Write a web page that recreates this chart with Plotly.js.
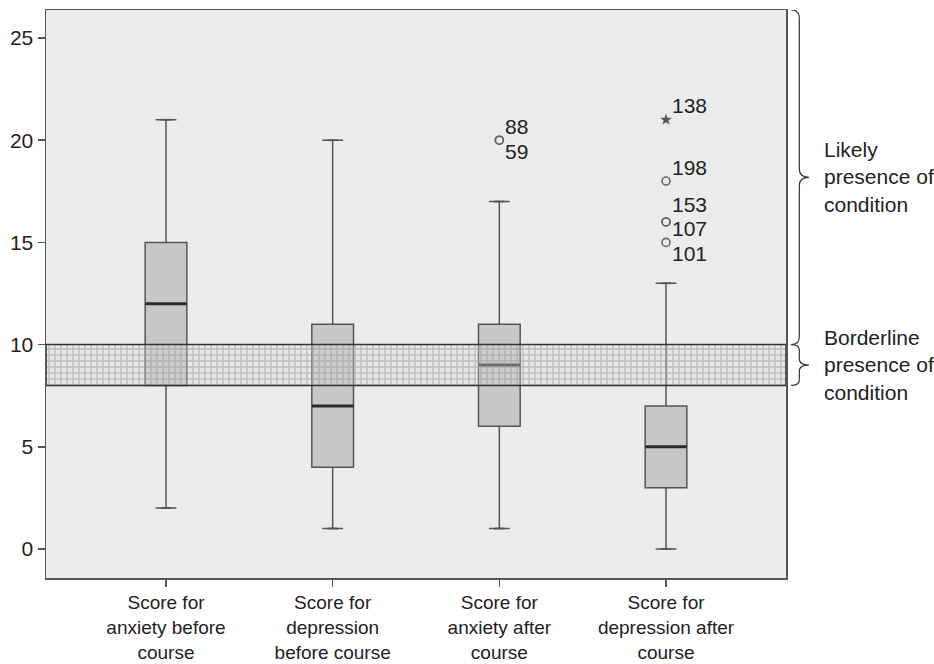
<!DOCTYPE html>
<html>
<head>
<meta charset="utf-8">
<script src="https://cdn.plot.ly/plotly-3.0.1.min.js"></script>
<style>html,body{margin:0;padding:0;background:#fff}#chart{width:934px;height:664px}</style>
</head>
<body>
<div id="chart"></div>
<script>
// ---- data ----
const categories = ['anxBefore', 'depBefore', 'anxAfter', 'depAfter'];
const tickLabels = ['Score for<br>anxiety before<br>course', 'Score for<br>depression<br>before course', 'Score for<br>anxiety after<br>course', 'Score for<br>depression after<br>course'];
const lowerWhisker = [2, 1, 1, 0];
const q1 = [8, 4, 6, 3];
const median = [12, 7, 9, 5];
const q3 = [15, 11, 11, 7];
const upperWhisker = [21, 20, 17, 13];

const outlierCat = ['anxAfter', 'anxAfter', 'depAfter', 'depAfter', 'depAfter', 'depAfter'];
const outlierVal = [20, 20, 18, 16, 16, 15];
const outlierCase = ['88', '59', '198', '153', '107', '101'];

const extremeCat = ['depAfter'];
const extremeVal = [21];
const extremeCase = ['138'];

const borderlineBand = [8, 10];
const yRange = [-1.42, 26.37];
const yTicks = [0, 5, 10, 15, 20, 25];

// label placement (style only)
const outlierLabelPos = ['above', 'below', 'above', 'high', 'low', 'below'];
const extremeLabelPos = ['above'];

const FONT = 'Liberation Sans, Arial, sans-serif';
const LINE = '#555';

const traces = [];

traces.push({
  type: 'box',
  x: categories,
  q1: q1, median: median, q3: q3,
  lowerfence: lowerWhisker, upperfence: upperWhisker,
  boxpoints: false,
  width: 0.25,
  fillcolor: '#c8c8c8',
  line: {color: LINE, width: 1.5},
  hoverinfo: 'skip',
  showlegend: false
});

// thick median lines
traces.push({
  type: 'scatter', mode: 'markers',
  x: categories, y: median,
  marker: {symbol: 'line-ew', size: 29.5, color: '#2a2a2a', line: {color: '#2a2a2a', width: 3}},
  hoverinfo: 'skip', showlegend: false
});

// whisker caps
traces.push({
  type: 'scatter', mode: 'markers',
  x: categories.concat(categories), y: lowerWhisker.concat(upperWhisker),
  marker: {symbol: 'line-ew', size: 7.5, color: LINE, line: {color: LINE, width: 1.8}},
  hoverinfo: 'skip', showlegend: false
});

// outliers
traces.push({
  type: 'scatter', mode: 'markers',
  x: outlierCat, y: outlierVal,
  marker: {symbol: 'circle-open', size: 8, color: '#666', line: {color: '#666', width: 1.6}},
  hoverinfo: 'skip', showlegend: false
});
traces.push({
  type: 'scatter', mode: 'markers',
  x: extremeCat, y: extremeVal,
  marker: {symbol: 'star', size: 9, color: '#555', line: {width: 0}},
  hoverinfo: 'skip', showlegend: false
});

// borderline band (overlay axis so it spans the full width)
traces.push({
  type: 'bar',
  xaxis: 'x2', yaxis: 'y',
  x: [0.5], width: [1],
  base: [borderlineBand[0]], y: [borderlineBand[1] - borderlineBand[0]],
  marker: {
    color: 'rgba(215,215,215,0.35)',
    pattern: {shape: '+', bgcolor: 'rgba(220,220,220,0.35)', fgcolor: 'rgba(140,140,140,0.45)', size: 6, solidity: 0.4},
    line: {color: '#333', width: 1.5}
  },
  hoverinfo: 'skip', showlegend: false
});

const shiftFor = {above: 14, below: -11, high: 17, low: -7};
const annotations = [];
function addLabels(cats, vals, labels, pos) {
  for (let i = 0; i < cats.length; i++) {
    annotations.push({
      x: cats[i], y: vals[i], xref: 'x', yref: 'y',
      text: labels[i], showarrow: false,
      xanchor: 'left', yanchor: 'middle',
      xshift: 4, yshift: shiftFor[pos[i]],
      font: {family: FONT, size: 21, color: '#222'}
    });
  }
}
addLabels(outlierCat, outlierVal, outlierCase, outlierLabelPos);
addLabels(extremeCat, extremeVal, extremeCase, extremeLabelPos);

// braces
function bracePath(yTop, yBot, r) {
  const x0 = 1.007, xs = 1.018, xt = 1.031;
  const ym = (yTop + yBot) / 2;
  return `M${x0},${yTop} Q${xs},${yTop} ${xs},${yTop - r} L${xs},${ym + r} Q${xs},${ym} ${xt},${ym} ` +
         `Q${xs},${ym} ${xs},${ym - r} L${xs},${yBot + r} Q${xs},${yBot} ${x0},${yBot}`;
}
const shapes = [
  {type: 'path', xref: 'paper', yref: 'y', path: bracePath(yRange[1], borderlineBand[1], 0.4), line: {color: '#333', width: 1.2}},
  {type: 'path', xref: 'paper', yref: 'y', path: bracePath(borderlineBand[1], borderlineBand[0], 0.28), line: {color: '#333', width: 1.2}}
];

annotations.push({
  xref: 'paper', yref: 'y', x: 1.048, y: (yRange[1] + borderlineBand[1]) / 2,
  text: 'Likely<br>presence of<br>condition', showarrow: false,
  xanchor: 'left', yanchor: 'middle', align: 'left',
  font: {family: FONT, size: 21, color: '#222'}
});
annotations.push({
  xref: 'paper', yref: 'y', x: 1.048, y: (borderlineBand[0] + borderlineBand[1]) / 2,
  text: 'Borderline<br>presence of<br>condition', showarrow: false,
  xanchor: 'left', yanchor: 'middle', align: 'left',
  font: {family: FONT, size: 21, color: '#222'}
});

const layout = {
  width: 934, height: 664,
  margin: {l: 46, r: 148, t: 10, b: 86},
  paper_bgcolor: '#ffffff',
  plot_bgcolor: '#ececec',
  font: {family: FONT, size: 21, color: '#222'},
  showlegend: false,
  barmode: 'overlay',
  xaxis: {
    type: 'category',
    categoryorder: 'array', categoryarray: categories,
    tickvals: categories, ticktext: tickLabels,
    range: [-0.72, 3.72],
    showline: true, mirror: true, linecolor: LINE, linewidth: 1.5,
    ticks: 'outside', ticklen: 7, tickwidth: 1.5, tickcolor: LINE,
    showgrid: false, zeroline: false,
    tickfont: {family: FONT, size: 19, color: '#222'}
  },
  xaxis2: {
    overlaying: 'x', range: [0, 1],
    showgrid: false, zeroline: false, showline: false, showticklabels: false, ticks: ''
  },
  yaxis: {
    range: yRange,
    tickvals: yTicks,
    showline: true, mirror: true, linecolor: LINE, linewidth: 1.5,
    ticks: 'outside', ticklen: 7, tickwidth: 1.5, tickcolor: LINE,
    showgrid: false, zeroline: false,
    tickfont: {family: FONT, size: 21, color: '#222'}
  },
  shapes: shapes,
  annotations: annotations
};

Plotly.newPlot('chart', traces, layout, {staticPlot: true, displayModeBar: false});
</script>
</body>
</html>
